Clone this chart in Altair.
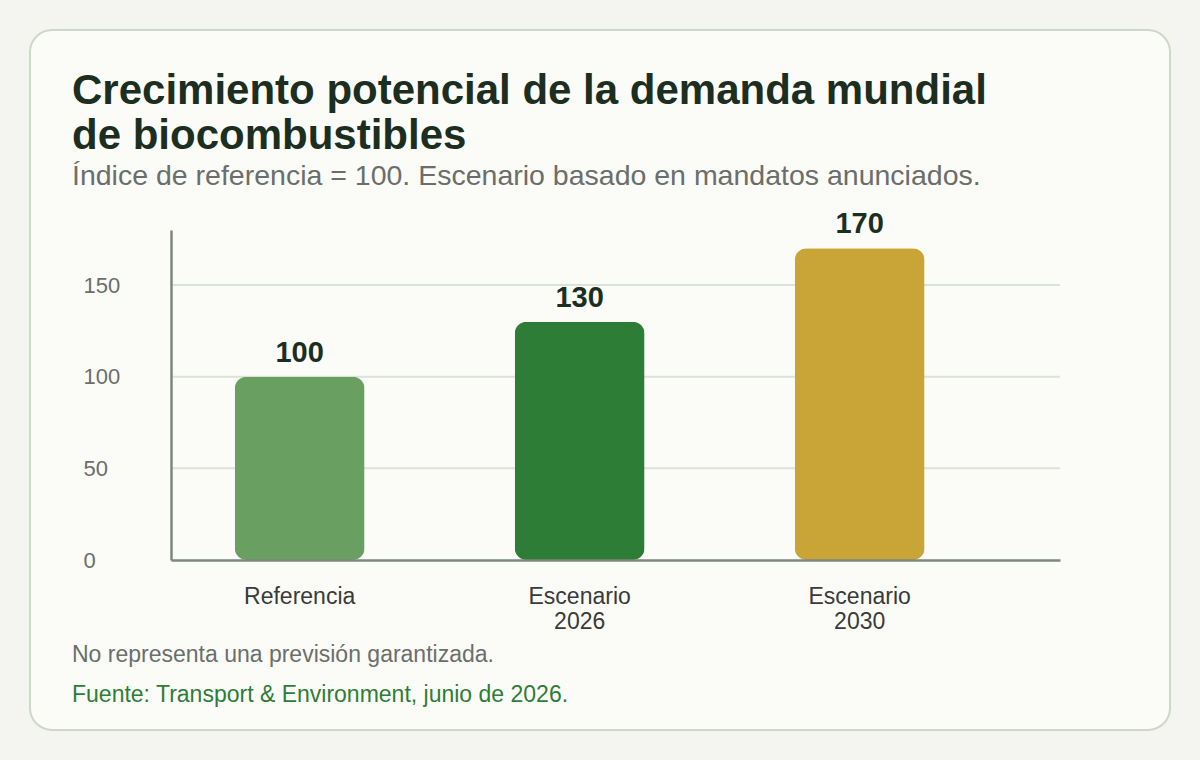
import altair as alt
import pandas as pd

# Índice de demanda por escenario
categorias = ["Referencia", "Escenario 2026", "Escenario 2030"]
indices = [100, 130, 170]
colores = ["#6a9f62", "#2e7d36", "#c9a436"]
marcas_y = [0, 50, 100, 150]
lineas_guia = [50, 100, 150]

titulo = ["Crecimiento potencial de la demanda mundial", "de biocombustibles"]
subtitulo = "Índice de referencia = 100. Escenario basado en mandatos anunciados."
nota = "No representa una previsión garantizada."
fuente = "Fuente: Transport & Environment, junio de 2026."

FUENTE = "Liberation Sans, Arial, Helvetica, sans-serif"
ANCHO, ALTO = 889, 330

df = pd.DataFrame({"categoria": categorias, "indice": indices})
df_guias = pd.DataFrame({"indice": lineas_guia})
df_uno = pd.DataFrame({"k": [0]})

escala_y = alt.Scale(domain=[0, 180], nice=False)
escala_x = alt.Scale(paddingInner=0.536, paddingOuter=0.3555, align=0.32)

eje_y = alt.Axis(
    title=None,
    values=marcas_y,
    domain=True,
    domainColor="#7d887d",
    domainWidth=2.5,
    ticks=False,
    grid=False,
    labelAlign="left",
    labelBaseline="middle",
    labelPadding=88,
    labelFont=FUENTE,
    labelFontSize=22,
    labelColor="#6b6e6b",
    zindex=1,
)

eje_x = alt.Axis(
    title=None,
    domain=True,
    domainColor="#7d887d",
    domainWidth=2.5,
    ticks=False,
    grid=False,
    labelAngle=0,
    labelFont=FUENTE,
    labelFontSize=23,
    labelColor="#3a3a3a",
    labelPadding=25,
    labelBaseline="top",
    labelLineHeight=25,
    labelExpr="split(datum.label, ' ')",
    zindex=1,
)

# Tarjeta de fondo con esquinas redondeadas
tarjeta = alt.Chart(df_uno).mark_rect(
    cornerRadius=22, fill="#fbfcf8", stroke="#cdd8c9", strokeWidth=2
).encode(
    x=alt.value(-141), x2=alt.value(999), y=alt.value(-200), y2=alt.value(500)
)

# Líneas guía horizontales, detrás de las barras
guias = alt.Chart(df_guias).mark_rule(color="#d9e4d9", strokeWidth=2).encode(
    y=alt.Y("indice:Q", scale=escala_y, axis=eje_y),
    x=alt.value(0),
    x2=alt.value(ANCHO),
)

base = alt.Chart(df).encode(
    x=alt.X("categoria:N", sort=categorias, scale=escala_x, axis=eje_x),
    y=alt.Y("indice:Q", scale=escala_y, axis=eje_y),
)

barras = base.mark_bar(cornerRadius=12).encode(
    color=alt.Color("categoria:N", scale=alt.Scale(domain=categorias, range=colores), legend=None)
)

etiquetas = base.mark_text(
    baseline="alphabetic", dy=-15, font=FUENTE, fontSize=29, fontWeight="bold", color="#1b2e1f"
).encode(text=alt.Text("indice:Q"))

# Notas al pie
texto_nota = alt.Chart(df_uno).mark_text(
    align="left", baseline="alphabetic", font=FUENTE, fontSize=23, color="#6b6e6b"
).encode(x=alt.value(-99), y=alt.value(432), text=alt.value(nota))

texto_fuente = alt.Chart(df_uno).mark_text(
    align="left", baseline="alphabetic", font=FUENTE, fontSize=23, color="#2e7d36"
).encode(x=alt.value(-99), y=alt.value(472), text=alt.value(fuente))

chart = alt.layer(tarjeta, guias, barras, etiquetas, texto_nota, texto_fuente).properties(
    width=ANCHO,
    height=ALTO,
    autosize=alt.AutoSizeParams(type="none"),
    padding={"left": 171, "top": 230, "right": 140, "bottom": 200},
    background="#f4f5f0",
    title=alt.TitleParams(
        text=titulo,
        subtitle=subtitulo,
        anchor="start",
        frame="group",
        dx=-99,
        dy=172,
        font=FUENTE,
        fontSize=42,
        fontWeight="bold",
        color="#1b2e1f",
        lineHeight=45,
        subtitleFont=FUENTE,
        subtitleFontSize=28.5,
        subtitleColor="#6b6e6b",
        subtitlePadding=4,
        offset=10,
    ),
).configure_view(stroke=None)

chart.save("out.html", embed_options={"renderer": "svg", "actions": False})
